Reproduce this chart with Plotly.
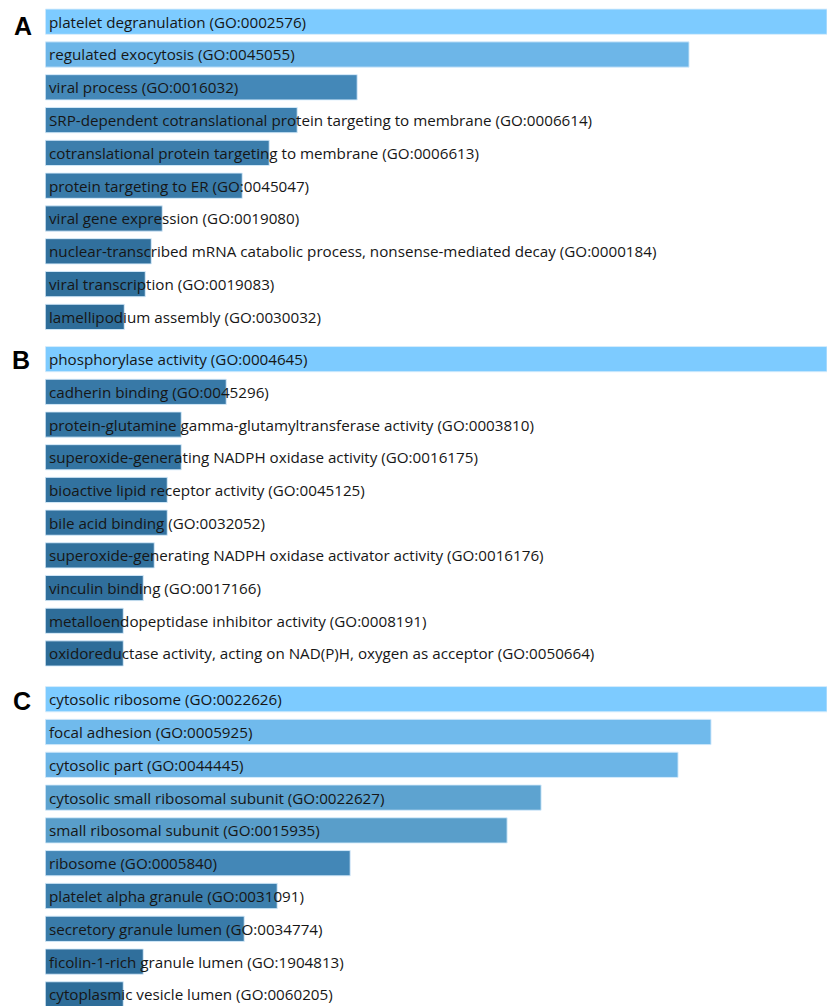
import plotly.graph_objects as go

# ---------------- data ----------------
terms_a = [
    "platelet degranulation (GO:0002576)",
    "regulated exocytosis (GO:0045055)",
    "viral process (GO:0016032)",
    "SRP-dependent cotranslational protein targeting to membrane (GO:0006614)",
    "cotranslational protein targeting to membrane (GO:0006613)",
    "protein targeting to ER (GO:0045047)",
    "viral gene expression (GO:0019080)",
    "nuclear-transcribed mRNA catabolic process, nonsense-mediated decay (GO:0000184)",
    "viral transcription (GO:0019083)",
    "lamellipodium assembly (GO:0030032)",
]
values_a = [782, 644, 312, 252, 224, 197, 117, 106, 100, 79]

terms_b = [
    "phosphorylase activity (GO:0004645)",
    "cadherin binding (GO:0045296)",
    "protein-glutamine gamma-glutamyltransferase activity (GO:0003810)",
    "superoxide-generating NADPH oxidase activity (GO:0016175)",
    "bioactive lipid receptor activity (GO:0045125)",
    "bile acid binding (GO:0032052)",
    "superoxide-generating NADPH oxidase activator activity (GO:0016176)",
    "vinculin binding (GO:0017166)",
    "metalloendopeptidase inhibitor activity (GO:0008191)",
    "oxidoreductase activity, acting on NAD(P)H, oxygen as acceptor (GO:0050664)",
]
values_b = [782, 181, 136, 136, 122, 122, 109, 98, 78, 78]

terms_c = [
    "cytosolic ribosome (GO:0022626)",
    "focal adhesion (GO:0005925)",
    "cytosolic part (GO:0044445)",
    "cytosolic small ribosomal subunit (GO:0022627)",
    "small ribosomal subunit (GO:0015935)",
    "ribosome (GO:0005840)",
    "platelet alpha granule (GO:0031091)",
    "secretory granule lumen (GO:0034774)",
    "ficolin-1-rich granule lumen (GO:1904813)",
    "cytoplasmic vesicle lumen (GO:0060205)",
]
values_c = [782, 666, 633, 496, 462, 305, 232, 199, 98, 78]

panel_letters = ["A", "B", "C"]

# ---------------- styling ----------------
W, H = 827, 1006
colorscale = [
    [0.0, "#27628e"],
    [0.1, "#2e6d99"],
    [0.4, "#4488b8"],
    [0.6, "#5a9fcb"],
    [0.82, "#6db6e8"],
    [1.0, "#7dcbff"],
]

def py(px):
    return 1 - px / H

# (top px, bottom px, y-range bottom value)
panels = [
    (5.3, 333.3, 9.5),
    (342.8, 669.8, 9.5),
    (682.8, 1006, -0.5 + (1006 - 682.8) / 32.8),
]

fig = go.Figure()
datasets = [(terms_a, values_a), (terms_b, values_b), (terms_c, values_c)]
layout_axes = {}
annotations = []
for i, ((terms, vals), (top, bot, yb)) in enumerate(zip(datasets, panels)):
    n = i + 1
    xa = "x" if n == 1 else f"x{n}"
    ya = "y" if n == 1 else f"y{n}"
    pos = list(range(len(terms)))
    vmax = max(vals)
    fig.add_trace(go.Bar(
        x=vals, y=pos, orientation="h", xaxis=xa, yaxis=ya,
        width=0.77,
        marker=dict(color=vals, colorscale=colorscale, cmin=0, cmax=vmax,
                    line=dict(color="rgba(215,236,252,0.9)", width=1)),
        hoverinfo="skip", showlegend=False,
    ))
    for p, t in zip(pos, terms):
        annotations.append(dict(
            text=t, x=0, y=p, xref=xa, yref=ya,
            xanchor="left", yanchor="middle", xshift=1.5, showarrow=False,
            font=dict(family="Open Sans", size=15.2, color="#161616"),
        ))
    kx = "xaxis" if n == 1 else f"xaxis{n}"
    ky = "yaxis" if n == 1 else f"yaxis{n}"
    layout_axes[kx] = dict(domain=[45.3 / W, 1], range=[0, vmax], anchor=ya,
                           visible=False, fixedrange=True)
    layout_axes[ky] = dict(domain=[py(bot), py(top)], range=[yb, -0.5], anchor=xa,
                           visible=False, fixedrange=True)

letter_pos = [(22.5, 26.3), (20.5, 360), (21.5, 701)]
for letter, (lx, ly) in zip(panel_letters, letter_pos):
    annotations.append(dict(
        text=f"<b>{letter}</b>", x=lx / W, y=py(ly), xref="paper", yref="paper",
        xanchor="center", yanchor="middle", showarrow=False,
        font=dict(family="Liberation Sans", size=25, color="#000000"),
    ))

fig.update_layout(
    width=W, height=H,
    margin=dict(l=0, r=0, t=0, b=0),
    paper_bgcolor="white", plot_bgcolor="white",
    annotations=annotations,
    **layout_axes,
)

fig.write_html(
    "out.html",
    config={"displayModeBar": False},
    post_script="document.body.style.margin='0px';document.body.style.overflow='hidden';",
)
